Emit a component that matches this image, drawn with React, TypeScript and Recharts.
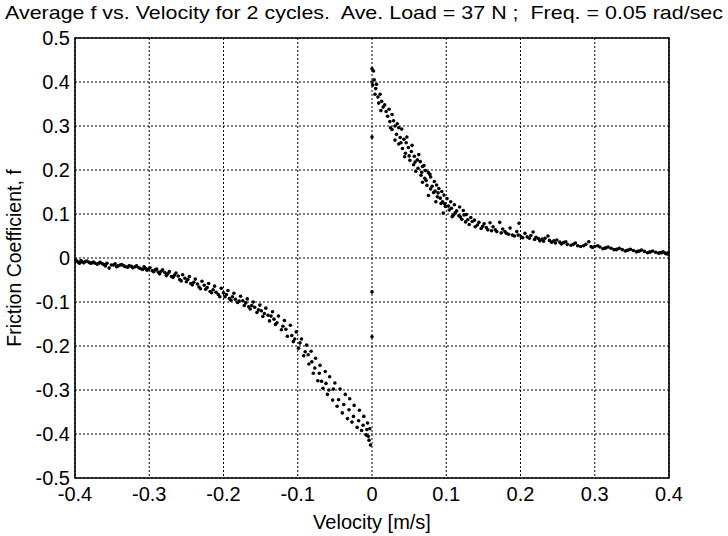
import React from 'react'
import { ScatterChart, Scatter, XAxis, YAxis, CartesianGrid, ReferenceArea } from 'recharts'

const FONT = '"Liberation Sans", Arial, Helvetica, sans-serif'

const velocityTicks = [-0.4, -0.3, -0.2, -0.1, 0, 0.1, 0.2, 0.3, 0.4]
const frictionTicks = [-0.5, -0.4, -0.3, -0.2, -0.1, 0, 0.1, 0.2, 0.3, 0.4, 0.5]

// [velocity m/s, friction coefficient]
const positiveBranch: [number, number][] = [
  [0.002, 0.425], [0.003, 0.405], [0.001, 0.393], [0.005, 0.385], [0.004, 0.372],
  [0.006, 0.395], [0.011, 0.372], [0.017, 0.348], [0.023, 0.338], [0.025, 0.296],
  [0.008, 0.366], [0.009, 0.352], [0.013, 0.356], [0.015, 0.343], [0.012, 0.335],
  [0.019, 0.333], [0.021, 0.322], [0.027, 0.326], [0.024, 0.31], [0.029, 0.312],
  [0.031, 0.3], [0.027, 0.292], [0.036, 0.296], [0.04, 0.293], [0.033, 0.281],
  [0.034, 0.305], [0.039, 0.262], [0.047, 0.275], [0.05, 0.232], [0.054, 0.256],
  [0.038, 0.274], [0.031, 0.268], [0.043, 0.27], [0.036, 0.259], [0.046, 0.262],
  [0.041, 0.249], [0.049, 0.251], [0.045, 0.238], [0.053, 0.242], [0.044, 0.23],
  [0.057, 0.231], [0.051, 0.222], [0.061, 0.223], [0.065, 0.219], [0.056, 0.212],
  [0.058, 0.218], [0.063, 0.235], [0.067, 0.195], [0.07, 0.21], [0.073, 0.176],
  [0.062, 0.204], [0.068, 0.208], [0.059, 0.197], [0.072, 0.199], [0.076, 0.194],
  [0.066, 0.188], [0.071, 0.181], [0.079, 0.184], [0.068, 0.172], [0.084, 0.174],
  [0.078, 0.19], [0.081, 0.163], [0.085, 0.152], [0.089, 0.148], [0.092, 0.136],
  [0.074, 0.165], [0.087, 0.166], [0.079, 0.157], [0.09, 0.158], [0.083, 0.149],
  [0.094, 0.151], [0.076, 0.142], [0.088, 0.139], [0.097, 0.143], [0.101, 0.135],
  [0.095, 0.128], [0.098, 0.123], [0.103, 0.118], [0.107, 0.113], [0.11, 0.098],
  [0.086, 0.128], [0.093, 0.124], [0.106, 0.128], [0.099, 0.117], [0.111, 0.121],
  [0.104, 0.109], [0.118, 0.116], [0.096, 0.102], [0.112, 0.103], [0.123, 0.108],
  [0.114, 0.107], [0.119, 0.093], [0.124, 0.098], [0.129, 0.087], [0.135, 0.083],
  [0.108, 0.094], [0.117, 0.096], [0.127, 0.099], [0.121, 0.088], [0.133, 0.092],
  [0.126, 0.082], [0.138, 0.086], [0.131, 0.076], [0.144, 0.081], [0.139, 0.071],
  [0.142, 0.075], [0.149, 0.072], [0.154, 0.069], [0.161, 0.062], [0.166, 0.064],
  [0.151, 0.078], [0.147, 0.067], [0.159, 0.08], [0.156, 0.064], [0.163, 0.071],
  [0.168, 0.06], [0.172, 0.081], [0.176, 0.066], [0.181, 0.056], [0.186, 0.068],
  [0.174, 0.057], [0.179, 0.06], [0.184, 0.054], [0.192, 0.05], [0.197, 0.052],
  [0.189, 0.052], [0.195, 0.06], [0.198, 0.079], [0.201, 0.048], [0.206, 0.056],
  [0.203, 0.046], [0.209, 0.048], [0.219, 0.042], [0.224, 0.044], [0.231, 0.038],
  [0.212, 0.045], [0.214, 0.051], [0.217, 0.059], [0.221, 0.047], [0.226, 0.039],
  [0.229, 0.043], [0.233, 0.045], [0.237, 0.05], [0.242, 0.036], [0.245, 0.039],
  [0.239, 0.04], [0.247, 0.034], [0.253, 0.036], [0.263, 0.031], [0.277, 0.028],
  [0.249, 0.041], [0.255, 0.032], [0.258, 0.035], [0.261, 0.037], [0.268, 0.029],
  [0.271, 0.031], [0.274, 0.034], [0.281, 0.026], [0.285, 0.028], [0.288, 0.031],
  [0.292, 0.037], [0.297, 0.024], [0.3, 0.026], [0.304, 0.028], [0.307, 0.025],
  [0.295, 0.026], [0.313, 0.022], [0.329, 0.019], [0.343, 0.017], [0.358, 0.015],
  [0.311, 0.021], [0.315, 0.023], [0.318, 0.025], [0.322, 0.022], [0.326, 0.019],
  [0.33, 0.02], [0.333, 0.022], [0.337, 0.019], [0.341, 0.016], [0.345, 0.018],
  [0.348, 0.02], [0.352, 0.017], [0.356, 0.014], [0.36, 0.016], [0.363, 0.018],
  [0.367, 0.015], [0.371, 0.012], [0.375, 0.014], [0.378, 0.016], [0.382, 0.013],
  [0.373, 0.013], [0.388, 0.012], [0.396, 0.01], [0.399, 0.012],
  [0.386, 0.011], [0.39, 0.012], [0.392, 0.014], [0.395, 0.011], [0.398, 0.009],
]

const negativeBranch: [number, number][] = [
  [-0.399, -0.004], [-0.398, -0.007], [-0.396, -0.009], [-0.392, -0.006], [-0.39, -0.009],
  [-0.394, -0.012], [-0.386, -0.008], [-0.377, -0.011], [-0.368, -0.012], [-0.359, -0.018],
  [-0.388, -0.011], [-0.384, -0.007], [-0.381, -0.01], [-0.379, -0.012], [-0.375, -0.009],
  [-0.373, -0.012], [-0.37, -0.014], [-0.366, -0.01], [-0.363, -0.013], [-0.361, -0.015],
  [-0.357, -0.012], [-0.354, -0.023], [-0.351, -0.016], [-0.348, -0.016], [-0.346, -0.013],
  [-0.344, -0.02], [-0.339, -0.016], [-0.329, -0.021], [-0.324, -0.019], [-0.314, -0.022],
  [-0.342, -0.018], [-0.337, -0.015], [-0.334, -0.018], [-0.332, -0.02], [-0.327, -0.017],
  [-0.322, -0.022], [-0.319, -0.02], [-0.317, -0.018], [-0.312, -0.024], [-0.307, -0.02],
  [-0.309, -0.026], [-0.301, -0.025], [-0.296, -0.029], [-0.288, -0.032], [-0.284, -0.03],
  [-0.305, -0.024], [-0.303, -0.028], [-0.299, -0.022], [-0.294, -0.031], [-0.292, -0.027],
  [-0.29, -0.025], [-0.286, -0.036], [-0.282, -0.027], [-0.279, -0.033], [-0.277, -0.04],
  [-0.275, -0.036], [-0.27, -0.042], [-0.261, -0.041], [-0.257, -0.052], [-0.248, -0.049],
  [-0.273, -0.031], [-0.268, -0.044], [-0.266, -0.039], [-0.264, -0.034], [-0.259, -0.049],
  [-0.255, -0.038], [-0.252, -0.046], [-0.25, -0.054], [-0.246, -0.042], [-0.242, -0.061],
  [-0.244, -0.058], [-0.235, -0.059], [-0.231, -0.07], [-0.222, -0.067], [-0.218, -0.076],
  [-0.24, -0.055], [-0.238, -0.048], [-0.233, -0.066], [-0.229, -0.053], [-0.226, -0.062],
  [-0.224, -0.071], [-0.22, -0.058], [-0.216, -0.079], [-0.214, -0.072], [-0.212, -0.064],
  [-0.21, -0.078], [-0.205, -0.088], [-0.196, -0.083], [-0.192, -0.092], [-0.184, -0.094],
  [-0.207, -0.083], [-0.203, -0.069], [-0.2, -0.079], [-0.198, -0.088], [-0.194, -0.074],
  [-0.19, -0.096], [-0.188, -0.088], [-0.186, -0.08], [-0.181, -0.101], [-0.177, -0.087],
  [-0.179, -0.098], [-0.17, -0.102], [-0.166, -0.111], [-0.158, -0.112], [-0.153, -0.118],
  [-0.174, -0.097], [-0.172, -0.108], [-0.168, -0.093], [-0.164, -0.116], [-0.162, -0.108],
  [-0.16, -0.1], [-0.155, -0.124], [-0.151, -0.107], [-0.149, -0.12], [-0.147, -0.133],
  [-0.145, -0.126], [-0.14, -0.13], [-0.132, -0.139], [-0.128, -0.147], [-0.12, -0.155],
  [-0.143, -0.114], [-0.138, -0.143], [-0.136, -0.132], [-0.134, -0.122], [-0.13, -0.151],
  [-0.126, -0.132], [-0.122, -0.163], [-0.118, -0.142], [-0.114, -0.178], [-0.11, -0.153],
  [-0.116, -0.162], [-0.108, -0.176], [-0.104, -0.184], [-0.097, -0.193], [-0.09, -0.213],
  [-0.106, -0.19], [-0.102, -0.168], [-0.099, -0.205], [-0.095, -0.184], [-0.092, -0.222],
  [-0.088, -0.198], [-0.085, -0.241], [-0.082, -0.212], [-0.079, -0.262], [-0.076, -0.228],
  [-0.086, -0.22], [-0.081, -0.236], [-0.077, -0.25], [-0.071, -0.262], [-0.068, -0.28],
  [-0.073, -0.279], [-0.07, -0.244], [-0.066, -0.296], [-0.063, -0.258], [-0.06, -0.31],
  [-0.062, -0.285], [-0.058, -0.3], [-0.052, -0.298], [-0.045, -0.322], [-0.038, -0.333],
  [-0.057, -0.27], [-0.053, -0.323], [-0.05, -0.284], [-0.047, -0.337], [-0.043, -0.298],
  [-0.04, -0.352], [-0.036, -0.31], [-0.033, -0.365], [-0.03, -0.32], [-0.027, -0.373],
  [-0.031, -0.345], [-0.025, -0.36], [-0.018, -0.37], [-0.012, -0.38], [-0.007, -0.39],
  [-0.024, -0.335], [-0.02, -0.385], [-0.017, -0.346], [-0.014, -0.392], [-0.011, -0.36],
  [-0.008, -0.402], [-0.006, -0.375], [-0.004, -0.414], [-0.003, -0.388], [-0.002, -0.425],
  [-0.005, -0.405],
]

// points sitting on the zero-velocity line (stick phase)
const stickPoints: [number, number][] = [
  [0, 0.43], [0, 0.4], [0, 0.275], [0, -0.077], [0, -0.179],
]

const toRows = (pairs: [number, number][]) => pairs.map(([v, f]) => ({ v, f }))

const Dot = (props: any) => <circle cx={props.cx} cy={props.cy} r={1.8} fill="#000" />

const tickStyle = { fill: '#000', fontSize: 20, fontFamily: FONT }

export default function App() {
  return (
    <div style={{ position: 'absolute', left: 0, top: 0, width: 728, height: 536, background: '#fff' }}>
      <ScatterChart width={728} height={536} margin={{ top: 38, right: 59, bottom: 18, left: 10 }}>
        <CartesianGrid
          stroke="#000"
          strokeDasharray="2 2"
          strokeWidth={1}
          horizontalValues={frictionTicks}
          verticalValues={velocityTicks}
        />
        <XAxis
          type="number"
          dataKey="v"
          domain={[-0.4, 0.4]}
          ticks={velocityTicks}
          tickFormatter={(v: number) => String(v)}
          axisLine={false}
          tickLine={false}
          tickSize={0}
          tickMargin={9}
          height={40}
          tick={tickStyle}
          interval={0}
        />
        <YAxis
          type="number"
          dataKey="f"
          domain={[-0.5, 0.5]}
          ticks={frictionTicks}
          tickFormatter={(v: number) => String(v)}
          axisLine={false}
          tickLine={false}
          tickSize={0}
          tickMargin={5}
          width={65}
          tick={tickStyle}
          interval={0}
        />
        <ReferenceArea x1={-0.4} x2={0.4} y1={-0.5} y2={0.5} fill="none" stroke="#000" strokeWidth={1.6} />
        <Scatter data={toRows(negativeBranch)} shape={Dot} isAnimationActive={false} />
        <Scatter data={toRows(positiveBranch)} shape={Dot} isAnimationActive={false} />
        <Scatter data={toRows(stickPoints)} shape={Dot} isAnimationActive={false} />
      </ScatterChart>
      <svg
        width={728}
        height={536}
        style={{ position: 'absolute', left: 0, top: 0, pointerEvents: 'none' }}
        fontFamily={FONT}
      >
        <text
          x={5}
          y={19}
          fontSize={19}
          textLength={718}
          lengthAdjust="spacingAndGlyphs"
          fill="#000"
          xmlSpace="preserve"
          style={{ whiteSpace: 'pre' }}
        >
          {'Average f vs. Velocity for 2 cycles.  Ave. Load = 37 N ;  Freq. = 0.05 rad/sec'}
        </text>
        <text x={372} y={529} fontSize={20} textAnchor="middle" fill="#000">
          Velocity [m/s]
        </text>
        <text x={21} y={258} fontSize={19.5} textAnchor="middle" fill="#000" transform="rotate(-90 21 258)">
          Friction Coefficient, f
        </text>
      </svg>
    </div>
  )
}
